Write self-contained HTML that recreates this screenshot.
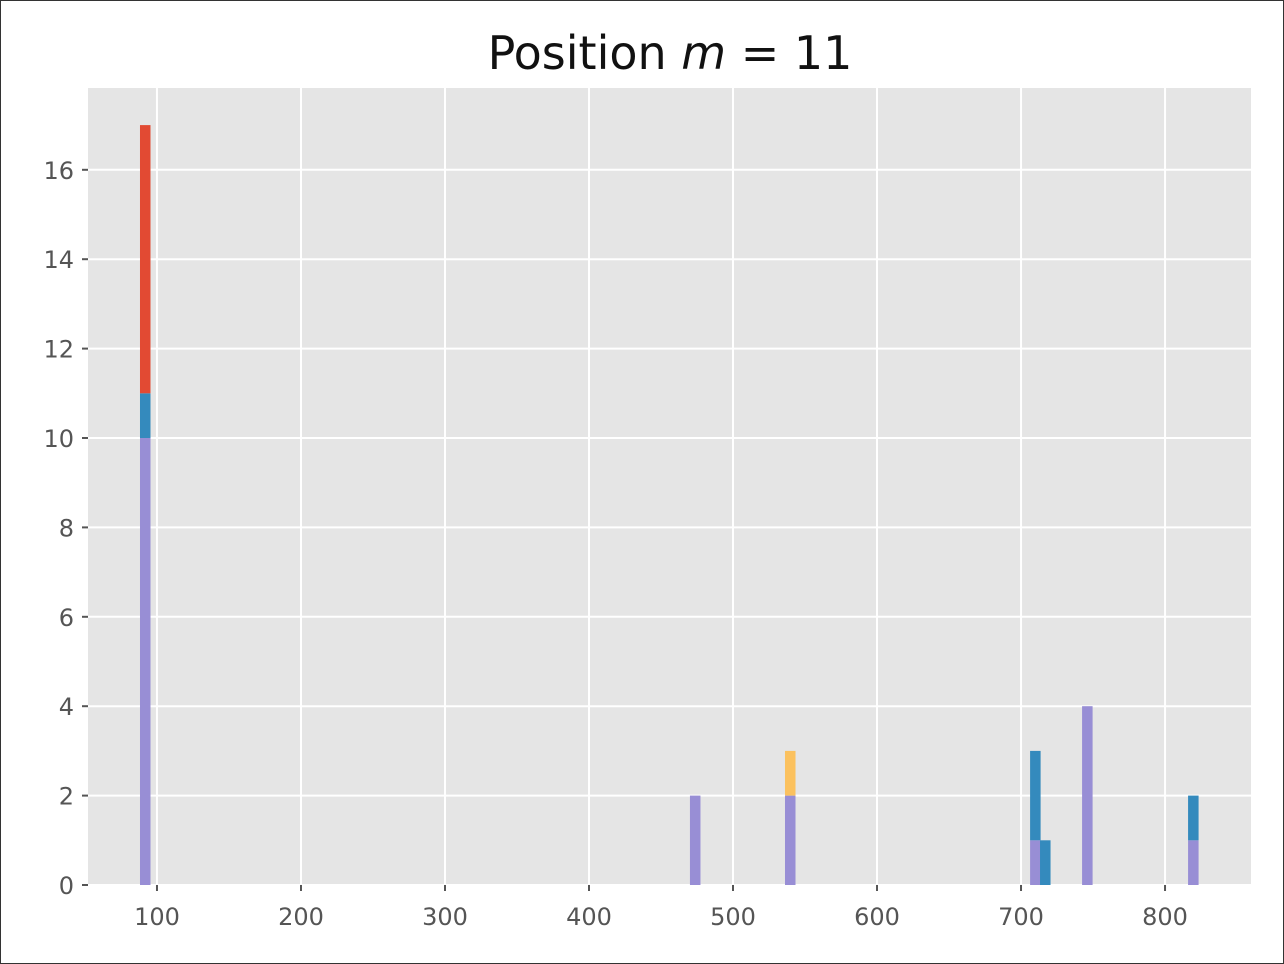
<!DOCTYPE html>
<html><head><meta charset="utf-8"><style>
body{margin:0;background:#fff;}
svg{display:block;font-family:"DejaVu Sans","Liberation Sans",sans-serif;}
</style></head><body>
<svg id="chart" width="1284" height="964">
<rect x="0.5" y="0.5" width="1283" height="963" fill="#fff" stroke="#333"/>
<text x="670" y="69" text-anchor="middle" font-size="46" fill="#111">Position <tspan font-style="italic">m</tspan> = 11</text>
<rect x="88" y="88" width="1163" height="797" fill="#e5e5e5"/>
<g id="grid"></g><g id="bars"></g><g id="axes"></g>
</svg>
<script>
const binStarts=[88.2,470.1,536.1,706.3,713.2,742.4,816.0];
const purple=[10,2,2,1,0,4,1];
const blue=[1,0,0,2,1,0,1];
const orange=[0,0,1,0,0,0,0];
const red=[6,0,0,0,0,0,0];
const xTicks=[100,200,300,400,500,600,700,800];
const yTicks=[0,2,4,6,8,10,12,14,16];
const binWidth=7.3;
const X0=88,X1=1251,Y0=885,Y1=88,xmin=52.1,xmax=859.7,ymin=0,ymax=17.83;
const sx=v=>X0+(v-xmin)/(xmax-xmin)*(X1-X0);
const sy=v=>Y0-(v-ymin)/(ymax-ymin)*(Y0-Y1);
const NS="http://www.w3.org/2000/svg";
function mk(t,a,p){const e=document.createElementNS(NS,t);for(const k in a)e.setAttribute(k,a[k]);p.appendChild(e);return e;}
const g=document.getElementById('grid'),b=document.getElementById('bars'),ax=document.getElementById('axes');
xTicks.forEach(v=>{
 const l=mk('line',{x1:sx(v),x2:sx(v),y1:Y1,y2:Y0,stroke:'#fff','stroke-width':2},g);
 
 
 const tk=mk('line',{x1:sx(v),x2:sx(v),y1:Y0,y2:Y0+6,stroke:'#555','stroke-width':2},ax);
 
 
 const t=mk('text',{x:sx(v),y:Y0+40,'text-anchor':'middle','font-size':24,fill:'#555'},ax);
 t.textContent=v;
 
 
});
yTicks.forEach(v=>{
 const l=mk('line',{x1:X0,x2:X1,y1:sy(v),y2:sy(v),stroke:'#fff','stroke-width':2},g);
 
 
 const tk=mk('line',{x1:X0-6,x2:X0,y1:sy(v),y2:sy(v),stroke:'#555','stroke-width':2},ax);
 
 
 const t=mk('text',{x:X0-14,y:sy(v)+9,'text-anchor':'end','font-size':24,fill:'#555'},ax);
 t.textContent=v;
 
 
});
const series=[[purple,'#988ed5','purple'],[blue,'#348abd','blue'],[orange,'#fbc15e','orange'],[red,'#e24a33','red']];
binStarts.forEach((s,i)=>{
 let base=0;
 series.forEach(([arr,col,nm])=>{
  const v=arr[i]; if(!v)return;
  const r=mk('rect',{x:sx(s),width:sx(s+binWidth)-sx(s),y:sy(base+v),height:sy(base)-sy(base+v),fill:col},b);
  
  
  base+=v;
 });
});
</script>
</body></html>
